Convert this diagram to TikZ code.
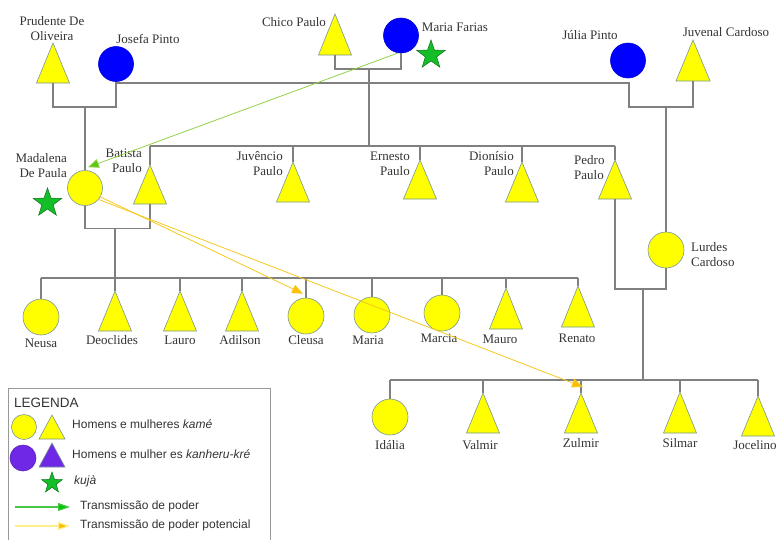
\documentclass[tikz,border=0pt]{standalone}
\usepackage{fontspec}
\setmainfont{Liberation Serif}
\setsansfont{Liberation Sans}
\usetikzlibrary{shapes.geometric,arrows.meta,calc}
\definecolor{kyellow}{RGB}{255,255,0}
\definecolor{kblue}{RGB}{0,0,255}
\definecolor{kgreen}{RGB}{20,190,40}
\definecolor{kpurple}{RGB}{110,40,230}
\definecolor{kline}{RGB}{128,128,128}
\definecolor{kedge}{RGB}{120,150,150}
\definecolor{garrow}{RGB}{145,210,70}
\definecolor{ghead}{RGB}{90,200,20}
\definecolor{yarrow}{RGB}{245,200,30}
\definecolor{yhead}{RGB}{255,190,0}
\definecolor{leggreenhead}{RGB}{0,200,0}
\definecolor{legyellowline}{RGB}{255,238,140}
\newcommand\ktri[6][kyellow]{%
  \coordinate (#2) at (#3,#4);
  \coordinate (#2-b) at (#3,#5);
  \draw[fill=#1, draw=kedge, line width=0.6pt] (#2) -- (#3+#6,#5) -- (#3-#6,#5) -- cycle;}
\begin{document}
\begin{tikzpicture}[x=1pt,y=-1pt,
  kin/.style={draw=kline, line width=1.2pt},
  fem/.style={circle, fill=kyellow, draw=kedge, line width=0.6pt, minimum size=36pt, inner sep=0pt},
  bluefem/.style={circle, fill=kblue, draw=kblue!85!black, line width=0.6pt, minimum size=35pt, inner sep=0pt},
  lbl/.style={font=\fontsize{13}{15}\selectfont, text=black!80, inner sep=0pt},
  kuja/.style={star, star points=5, star point ratio=2.5, fill=kgreen, draw=kgreen!60!black, line width=0.5pt, minimum size=30pt, inner sep=0pt},
  leg/.style={font=\sffamily\fontsize{12}{14}\selectfont, text=black!80, inner sep=0pt, anchor=west},
  garr/.style={draw=garrow, line width=0.8pt, -{Triangle[length=11pt,width=9pt,fill=ghead]}},
  yarr/.style={draw=yarrow, line width=0.8pt, -{Triangle[length=11pt,width=9pt,fill=yhead]}}
]
\useasboundingbox (0,0) rectangle (781,539);

% ---------- top generation ----------
\ktri{prud}{53}{43}{83}{16.5}
\node[bluefem] (josefa) at (116,64) {};
\ktri{chico}{335}{14}{55}{16.5}
\node[bluefem] (mfarias) at (401,35.5) {};
\node[kuja] (starmf) at (431,55) {};
\node[bluefem] (julia) at (628,60.5) {};
\ktri{juvenal}{693}{40}{81}{17}

\node[lbl, align=center] (lprud) at (52,28.5) {Prudente De\\Oliveira};
\node[lbl] (ljosefa) at (148,39) {Josefa Pinto};
\node[lbl] (lchico) at (294,22) {Chico Paulo};
\node[lbl] (lmfarias) at (455,27) {Maria Farias};
\node[lbl] (ljulia) at (590,35) {Júlia Pinto};
\node[lbl] (ljuvenal) at (726,32) {Juvenal Cardoso};

% ---------- second generation ----------
\node[fem, minimum size=35pt] (madalena) at (85,188) {};
\node[kuja] (starmd) at (47.5,203) {};
\ktri{batista}{150}{165}{204}{16.5}
\ktri{juvencio}{293}{162}{202}{16.5}
\ktri{ernesto}{420}{160}{199}{16.5}
\ktri{dionisio}{522}{162}{202}{16.5}
\ktri{pedro}{615}{160}{199}{16.5}
\node[fem] (lurdes) at (666,250) {};

\node[lbl, align=right, anchor=east] (lmadalena) at (67,166) {Madalena\\De Paula};
\node[lbl, align=right, anchor=east] (lbatista) at (142,161) {Batista\\Paulo};
\node[lbl, align=right, anchor=east] (ljuvencio) at (283,164) {Juvêncio\\Paulo};
\node[lbl, align=right, anchor=east] (lernesto) at (410,164) {Ernesto\\Paulo};
\node[lbl, align=right, anchor=east] (ldionisio) at (514,164) {Dionísio\\Paulo};
\node[lbl, align=left, anchor=west] (lpedro) at (574,168) {Pedro\\Paulo};
\node[lbl, align=left, anchor=west] (llurdes) at (691,255) {Lurdes\\Cardoso};

% ---------- third generation, row 1 ----------
\node[fem] (neusa) at (41,317) {};
\ktri{deoclides}{115}{291}{331}{16.5}
\ktri{lauro}{180}{291}{331}{16.5}
\ktri{adilson}{242}{291}{331}{16.5}
\node[fem] (cleusa) at (306,316) {};
\node[fem] (maria) at (372,315) {};
\node[fem] (marcia) at (442,313) {};
\ktri{mauro}{506}{288}{329}{16.5}
\ktri{renato}{578}{286}{327}{16.5}

\node[lbl] (lneusa) at (41,343) {Neusa};
\node[lbl] (ldeoclides) at (112,340) {Deoclides};
\node[lbl] (llauro) at (180,340) {Lauro};
\node[lbl] (ladilson) at (240,340) {Adilson};
\node[lbl] (lcleusa) at (306,340) {Cleusa};
\node[lbl] (lmaria) at (368,340) {Maria};
\node[lbl] (lmarcia) at (439,338) {Marcia};
\node[lbl] (lmauro) at (500,339) {Mauro};
\node[lbl] (lrenato) at (577,338) {Renato};

% ---------- third generation, row 2 ----------
\node[fem] (idalia) at (390,417) {};
\ktri{valmir}{483}{393}{433}{16.5}
\ktri{zulmir}{581}{393}{433}{16.5}
\ktri{silmar}{680}{392}{433}{16.5}
\ktri{jocelino}{758}{396}{436}{16.5}

\node[lbl] (lidalia) at (390,445) {Idália};
\node[lbl] (lvalmir) at (480,445) {Valmir};
\node[lbl] (lzulmir) at (581,443) {Zulmir};
\node[lbl] (lsilmar) at (680,443) {Silmar};
\node[lbl] (ljocelino) at (755,445) {Jocelino};

% ---------- kinship lines ----------
\draw[kin] (prud-b) -- ++(0,24) coordinate (pj) -| (josefa.south);
\draw[kin] (madalena.north |- pj) -- (madalena.north);

\draw[kin] (chico-b) -- ++(0,14) coordinate (cm) -| (mfarias.south);
\coordinate (cmc) at (369,69);
\coordinate (sibrow) at (369,146);
\draw[kin] (cmc) -- (sibrow);
\draw[kin] (batista |- sibrow) -- (pedro |- sibrow);
\foreach \n in {batista,juvencio,ernesto,dionisio,pedro}
  \draw[kin] (\n |- sibrow) -- (\n);

\coordinate (sibJ) at (116,83);
\coordinate (sibU) at (629,83);
\draw[kin] (sibJ) -- (sibU) -- ++(0,24) coordinate (jj) -| (juvenal-b);
\draw[kin] (lurdes.north |- jj) -- (lurdes.north);

\draw[kin] (madalena.south) -- ++(0,22.5) coordinate (mb) -| (batista-b);
\coordinate (mbc) at (115,228);
\coordinate (row1) at (115,278);
\draw[kin] (mbc) -- (row1);
\draw[kin] (neusa |- row1) -- (renato |- row1);
\foreach \n in {neusa,cleusa,maria,marcia}
  \draw[kin] (\n |- row1) -- (\n.north);
\foreach \n in {deoclides,lauro,adilson,mauro,renato}
  \draw[kin] (\n |- row1) -- (\n);

\draw[kin] (pedro-b) -- ++(0,90) coordinate (pl) -| (lurdes.south);
\coordinate (plc) at (643,289);
\coordinate (row2) at (643,380);
\draw[kin] (plc) -- (row2);
\draw[kin] (idalia |- row2) -- (jocelino |- row2);
\draw[kin] (idalia |- row2) -- (idalia.north);
\foreach \n in {valmir,zulmir,silmar,jocelino}
  \draw[kin] (\n |- row2) -- (\n);

% ---------- power transmission arrows ----------
\coordinate (gend) at ($(madalena.north)+(3,-3)$);
\draw[garr] (mfarias.-100) -- (gend);
\coordinate (yend1) at ($(cleusa.north)+(-3,-4)$);
\coordinate (yend2) at ($(zulmir)+(2,-6)$);
\draw[yarr] (madalena.-30) -- (yend1);
\draw[yarr] (madalena.-40) -- (yend2);

% ---------- legend ----------
\draw[draw=kline!80, line width=0.8pt] (8,388) rectangle (270,548);
\node[leg, font=\sffamily\fontsize{13.5}{16}\selectfont] (legtitle) at (14,403) {LEGENDA};
\node[fem, minimum size=25pt] (lf1) at (24,427) {};
\ktri{lt1}{52}{415}{439}{13}
\node[leg] (legt1) at (72,424) {Homens e mulheres \textit{kamé}};
\node[circle, fill=kpurple, draw=kpurple!80!black, line width=0.6pt, minimum size=26pt, inner sep=0pt] (lf2) at (23,458) {};
\ktri[kpurple]{lt2}{52}{443}{467}{13}
\node[leg] (legt2) at (72,454) {Homens e mulher es \textit{kanheru-kré}};
\node[kuja, minimum size=22pt] (lstar) at (52,483) {};
\node[leg] (legt3) at (74,481) {\textit{kujà}};
\coordinate (ga1) at (15,507);
\coordinate (ga2) at (70,507);
\draw[draw={rgb,255:red,70;green,200;blue,70}, line width=1.1pt, -{Triangle[length=12pt,width=8pt,fill=leggreenhead]}] (ga1) -- (ga2);
\node[leg] (legt4) at (80,506) {Transmissão de poder};
\coordinate (ya1) at (15,526);
\coordinate (ya2) at (70,526);
\draw[draw=legyellowline, line width=1.1pt, -{Triangle[length=12pt,width=8pt,fill=yhead]}] (ya1) -- (ya2);
\node[leg] (legt5) at (80,525) {Transmissão de poder potencial};
\end{tikzpicture}
\end{document}
